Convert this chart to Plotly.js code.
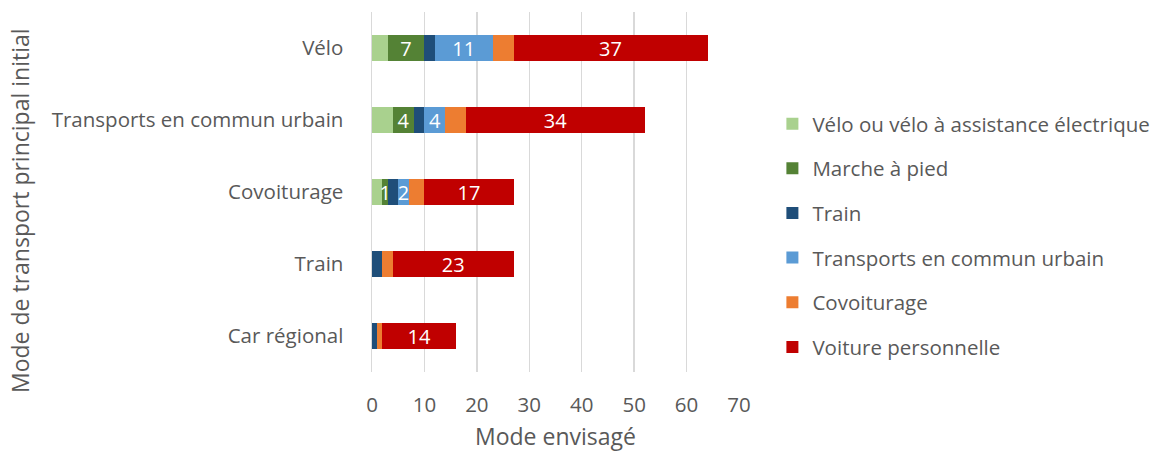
<!DOCTYPE html>
<html>
<head>
<meta charset="utf-8">
<script src="https://cdn.plot.ly/plotly-3.0.1.min.js"></script>
<style>html,body{margin:0;padding:0;background:#fff;}#chart{width:1167px;height:454px;}</style>
</head>
<body>
<div id="chart"></div>
<script>
const categories = ["Vélo", "Transports en commun urbain", "Covoiturage", "Train", "Car régional"];
const seriesNames = ["Vélo ou vélo à assistance électrique", "Marche à pied", "Train", "Transports en commun urbain", "Covoiturage", "Voiture personnelle"];
const veloVae = [3, 4, 2, 0, 0];
const marche = [7, 4, 1, 0, 0];
const train = [2, 2, 2, 2, 1];
const tcUrbain = [11, 4, 2, 0, 0];
const covoiturage = [4, 4, 3, 2, 1];
const voiture = [37, 34, 17, 23, 14];
const xTicks = [0, 10, 20, 30, 40, 50, 60, 70];

const colors = ["#A9D18E", "#548235", "#1F4E79", "#5B9BD5", "#ED7D31", "#C00000"];
const labelled = [false, true, false, true, false, true];
const values = [veloVae, marche, train, tcUrbain, covoiturage, voiture];
const FONT = "Open Sans, sans-serif";

const traces = values.map((vals, i) => ({
  type: "bar",
  orientation: "h",
  name: seriesNames[i],
  legendgroup: "g" + i,
  x: vals,
  y: categories,
  marker: {color: colors[i], line: {width: 0}},
  text: labelled[i] ? vals.map(v => v > 0 ? String(v) : "") : vals.map(() => ""),
  textposition: "inside",
  textangle: 0,
  insidetextanchor: "middle",
  constraintext: "none",
  textfont: {color: "#FFFFFF", size: 20, family: FONT},
  hoverinfo: "x+name"
}));

const layout = {
  width: 1167,
  height: 454,
  barmode: "stack",
  bargap: 0.64,
  paper_bgcolor: "#fff",
  plot_bgcolor: "#fff",
  margin: {l: 372, r: 428, t: 12, b: 82, autoexpand: false},
  font: {family: FONT, color: "#595959", size: 20},
  uniformtext: {mode: "show", minsize: 20},
  xaxis: {
    range: [0, 70],
    tickvals: xTicks,
    showgrid: true,
    gridcolor: "#D9D9D9",
    gridwidth: 1.5,
    zeroline: false,
    showline: false,
    ticks: "",
    ticklabelstandoff: 18,
    tickfont: {size: 20.5, color: "#595959", family: FONT},
    title: {text: "Mode envisagé", font: {size: 23, color: "#595959", family: FONT}, standoff: 12}
  },
  yaxis: {
    type: "category",
    categoryorder: "array",
    categoryarray: categories,
    autorange: "reversed",
    showgrid: false,
    zeroline: false,
    showline: true,
    linecolor: "#D9D9D9",
    linewidth: 1.5,
    ticks: "",
    ticklabelstandoff: 23,
    tickfont: {size: 20.5, color: "#595959", family: FONT}
  },
  showlegend: true,
  legend: {
    x: 1.091,
    xanchor: "left",
    y: 0.745,
    yanchor: "top",
    traceorder: "grouped",
    tracegroupgap: 15,
    font: {size: 20.5, color: "#595959", family: FONT},
    itemwidth: 30,
    bgcolor: "rgba(0,0,0,0)"
  },
  annotations: [{
    text: "Mode de transport principal initial",
    xref: "paper", yref: "paper",
    x: -372 / 366, xanchor: "left",
    y: (372 - 210) / 360, yanchor: "middle",
    xshift: 3,
    textangle: -90,
    showarrow: false,
    font: {size: 23, color: "#595959", family: FONT}
  }]
};

Plotly.newPlot("chart", traces, layout, {displayModeBar: false, staticPlot: true});
</script>
</body>
</html>
